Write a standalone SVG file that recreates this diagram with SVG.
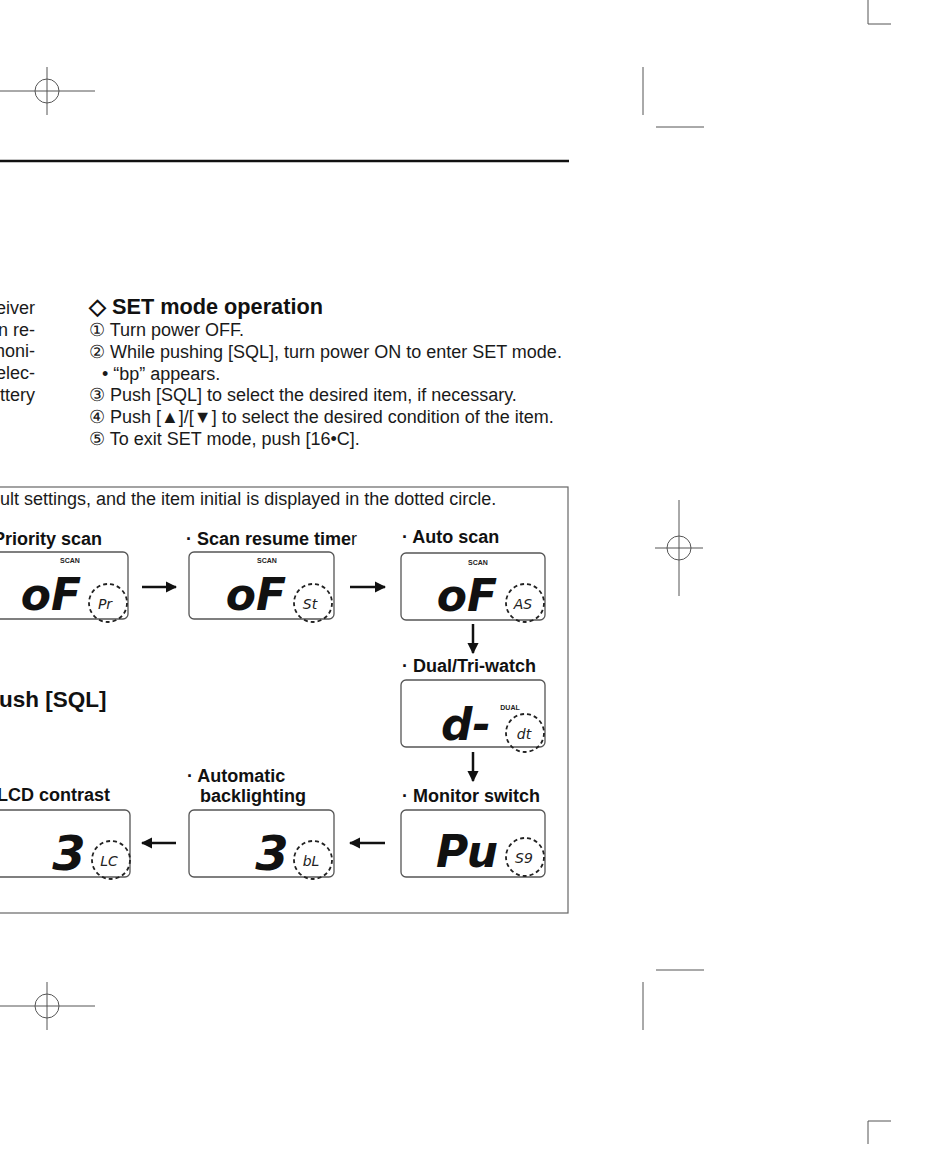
<svg xmlns="http://www.w3.org/2000/svg" width="950" height="1171" viewBox="0 0 950 1171">
<style>
.crop{stroke:#555;stroke-width:1;fill:none}
.body{font-family:"Liberation Sans",Arial,sans-serif;font-size:18px;fill:#1a1a1a}
.lbl{font-family:"Liberation Sans",Arial,sans-serif;font-size:18px;font-weight:bold;fill:#111}
.lcd{fill:#fff;stroke:#555;stroke-width:1.3}
.dot{fill:none;stroke:#222;stroke-width:1.8;stroke-dasharray:4 3}
.seg{font-family:"DejaVu Sans",sans-serif;font-weight:bold;fill:#111;font-style:italic}
.ini{font-family:"DejaVu Sans",sans-serif;font-style:italic;fill:#222;font-size:14px}
.tiny{font-family:"Liberation Sans",Arial,sans-serif;font-weight:bold;font-size:7px;fill:#222}
.conn{stroke:#111;stroke-width:2.5;fill:none}
</style>
<defs>
<marker id="ah" viewBox="0 0 10 10" refX="9" refY="5" markerWidth="4.5" markerHeight="4.5" orient="auto" markerUnits="strokeWidth">
<path d="M0,0 L10,5 L0,10 z" fill="#111"/>
</marker>
</defs>
<rect width="950" height="1171" fill="#fff"/>
<g id="cropmarks">
<line class="crop" x1="0" y1="91" x2="95" y2="91"/>
<line class="crop" x1="47" y1="67" x2="47" y2="115"/>
<circle class="crop" cx="47" cy="91" r="12"/>
<line class="crop" x1="868" y1="0" x2="868" y2="24"/>
<line class="crop" x1="868" y1="24" x2="891" y2="24"/>
<line class="crop" x1="643" y1="67" x2="643" y2="115"/>
<line class="crop" x1="656" y1="127" x2="704" y2="127"/>
<line class="crop" x1="655" y1="548" x2="703" y2="548"/>
<line class="crop" x1="679" y1="500" x2="679" y2="596"/>
<circle class="crop" cx="679" cy="548" r="12"/>
<line class="crop" x1="656" y1="970" x2="704" y2="970"/>
<line class="crop" x1="643" y1="982" x2="643" y2="1030"/>
<line class="crop" x1="0" y1="1006" x2="95" y2="1006"/>
<line class="crop" x1="47" y1="982" x2="47" y2="1030"/>
<circle class="crop" cx="47" cy="1006" r="12"/>
<line class="crop" x1="868" y1="1121" x2="868" y2="1144"/>
<line class="crop" x1="868" y1="1121" x2="891" y2="1121"/>
</g>
<line x1="0" y1="161" x2="569" y2="161" stroke="#111" stroke-width="2.5"/>
<g id="leftcol" class="body" text-anchor="end">
<text x="35" y="314">eiver</text>
<text x="35" y="336">n re-</text>
<text x="35" y="357">honi-</text>
<text x="35" y="379">elec-</text>
<text x="35" y="401">ttery</text>
</g>
<g id="steps">
<text x="89" y="314" font-family="Liberation Sans,Arial,sans-serif" font-size="21.7" font-weight="bold" fill="#111">◇ SET mode operation</text>
<text class="body" x="89" y="336">① Turn power OFF.</text>
<text class="body" x="89" y="358">② While pushing [SQL], turn power ON to enter SET mode.</text>
<text class="body" x="102" y="380">• “bp” appears.</text>
<text class="body" x="89" y="401">③ Push [SQL] to select the desired item, if necessary.</text>
<text class="body" x="89" y="423">④ Push [▲]/[▼] to select the desired condition of the item.</text>
<text class="body" x="89" y="445">⑤ To exit SET mode, push [16•C].</text>
</g>
<rect x="-2" y="487" width="570" height="426" fill="none" stroke="#666" stroke-width="1.2"/>
<text class="body" x="0" y="505">ult settings, and the item initial is displayed in the dotted circle.</text>
<text x="-1" y="707" font-family="Liberation Sans,Arial,sans-serif" font-size="22.5" font-weight="bold" fill="#111">ush [SQL]</text>

<g id="priority">
<text class="lbl" x="-7" y="545">Priority scan</text>
<rect class="lcd" x="-10" y="552" width="138" height="67" rx="5"/>
<text class="tiny" x="70" y="563" text-anchor="middle">SCAN</text>
<text class="seg" x="51" y="610" font-size="44" text-anchor="middle">oF</text>
<circle class="dot" cx="108" cy="603" r="19"/>
<text class="ini" x="105" y="609" text-anchor="middle">Pr</text>
</g>
<g id="resume">
<text class="lbl" x="186" y="545">· Scan resume time<tspan font-weight="normal">r</tspan></text>
<rect class="lcd" x="189" y="552" width="145" height="67" rx="5"/>
<text class="tiny" x="267" y="563" text-anchor="middle">SCAN</text>
<text class="seg" x="256" y="610" font-size="44" text-anchor="middle">oF</text>
<circle class="dot" cx="313" cy="603" r="19"/>
<text class="ini" x="310" y="609" text-anchor="middle">St</text>
</g>
<g id="autoscan">
<text class="lbl" x="402" y="543">· Auto scan</text>
<rect class="lcd" x="401" y="553" width="144" height="67" rx="5"/>
<text class="tiny" x="478" y="565" text-anchor="middle">SCAN</text>
<text class="seg" x="467" y="611" font-size="44" text-anchor="middle">oF</text>
<circle class="dot" cx="525" cy="603" r="19"/>
<text class="ini" x="523" y="609" text-anchor="middle">AS</text>
</g>
<g id="dual">
<text class="lbl" x="402" y="672">· Dual/Tri-watch</text>
<rect class="lcd" x="401" y="680" width="144" height="67" rx="5"/>
<text class="tiny" x="510" y="710" text-anchor="middle">DUAL</text>
<text class="seg" x="466" y="740" font-size="44" text-anchor="middle">d-</text>
<circle class="dot" cx="525" cy="733" r="19"/>
<text class="ini" x="524" y="739" text-anchor="middle">dt</text>
</g>
<g id="monitor">
<text class="lbl" x="402" y="802">· Monitor switch</text>
<rect class="lcd" x="401" y="810" width="144" height="67" rx="5"/>
<text class="seg" x="467" y="867" font-size="44" text-anchor="middle">Pu</text>
<circle class="dot" cx="525" cy="857" r="19"/>
<text class="ini" x="524" y="863" text-anchor="middle">S9</text>
</g>
<g id="backlight">
<text class="lbl" x="187" y="782">· Automatic</text>
<text class="lbl" x="200" y="802">backlighting</text>
<rect class="lcd" x="189" y="810" width="145" height="67" rx="5"/>
<text class="seg" x="272" y="870" font-size="48" text-anchor="middle">3</text>
<circle class="dot" cx="313" cy="860" r="19"/>
<text class="ini" x="311" y="866" text-anchor="middle">bL</text>
</g>
<g id="lcdcontrast">
<text class="lbl" x="-3" y="801">LCD contrast</text>
<rect class="lcd" x="-10" y="810" width="140" height="67" rx="5"/>
<text class="seg" x="69" y="870" font-size="48" text-anchor="middle">3</text>
<circle class="dot" cx="111" cy="860" r="19"/>
<text class="ini" x="109" y="866" text-anchor="middle">LC</text>
</g>
<g id="connectors">
<line class="conn" x1="142" y1="587" x2="176" y2="587" marker-end="url(#ah)"/>
<line class="conn" x1="350" y1="587" x2="385" y2="587" marker-end="url(#ah)"/>
<line class="conn" x1="473" y1="624" x2="473" y2="653" marker-end="url(#ah)"/>
<line class="conn" x1="473" y1="752" x2="473" y2="781" marker-end="url(#ah)"/>
<line class="conn" x1="385" y1="843" x2="350" y2="843" marker-end="url(#ah)"/>
<line class="conn" x1="176" y1="843" x2="142" y2="843" marker-end="url(#ah)"/>
</g>
</svg>
